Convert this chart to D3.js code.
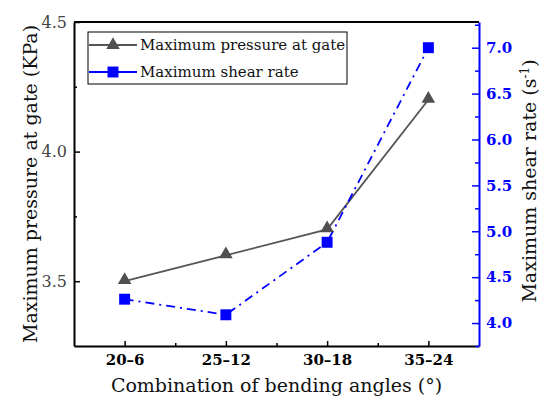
<!DOCTYPE html>
<html lang="en">
<head>
    <meta charset="UTF-8">
    <title>Bending angles</title>
    <script src="https://d3js.org/d3.v7.min.js"></script>
    <style>
        body { margin: 0; background: #fff; }
        text { font-family: "DejaVu Serif", "Liberation Serif", serif; }
    </style>
</head>
<body>
<div id="chart"></div>
<script>
    const categories = ["20–6", "25–12", "30–18", "35–24"];
    const pressure = [3.5, 3.6, 3.7, 4.2];
    const shearRate = [4.26, 4.09, 4.88, 7.0];
    const leftTicks = [3.5, 4.0, 4.5];
    const leftMinor = [3.75, 4.25];
    const rightTicks = [4.0, 4.5, 5.0, 5.5, 6.0, 6.5, 7.0];
    const rightMinor = [3.75, 4.25, 4.75, 5.25, 5.75, 6.25, 6.75, 7.25];

    const width = 542, height = 400;
    const margin = {top: 22, right: 63, bottom: 54, left: 74};
    const blue = "#0000ff";

    const svg = d3.select("#chart").append("svg")
        .attr("width", width)
        .attr("height", height);

    const x = d3.scalePoint()
        .domain(categories)
        .range([margin.left, width - margin.right])
        .padding(0.5);

    const yL = d3.scaleLinear()
        .domain([3.25, 4.5])
        .range([height - margin.bottom, margin.top]);

    const yR = d3.scaleLinear()
        .domain([3.75, 7.28])
        .range([height - margin.bottom, margin.top]);

    const step = x.step();
    const xMinor = categories.slice(0, -1).map(c => x(c) + step / 2);

    // top frame line
    svg.append("line")
        .attr("x1", margin.left).attr("x2", width - margin.right)
        .attr("y1", margin.top).attr("y2", margin.top)
        .attr("stroke", "#000").attr("stroke-width", 2);

    // bottom axis
    const gx = svg.append("g")
        .attr("transform", `translate(0,${height - margin.bottom})`)
        .call(d3.axisBottom(x).tickSizeInner(-5).tickSizeOuter(0).tickPadding(8));
    gx.select(".domain").attr("stroke-width", 2);
    gx.selectAll(".tick line").attr("stroke-width", 1.5);
    gx.selectAll("text")
        .attr("font-size", 15).attr("font-weight", "bold").attr("fill", "#000")
        .attr("font-family", "'DejaVu Serif', serif");
    svg.append("g")
        .attr("transform", `translate(0,${height - margin.bottom})`)
        .call(d3.axisBottom(d3.scaleLinear().domain([0, width]).range([0, width]))
            .tickValues(xMinor).tickSize(-3).tickFormat(""))
        .call(g => g.select(".domain").remove())
        .selectAll("line").attr("stroke-width", 1.5);

    // left axis
    const gl = svg.append("g")
        .attr("transform", `translate(${margin.left},0)`)
        .call(d3.axisLeft(yL).tickValues(leftTicks).tickFormat(d3.format(".1f"))
            .tickSizeInner(-6).tickSizeOuter(0).tickPadding(7));
    gl.select(".domain").attr("stroke-width", 2);
    gl.selectAll(".tick line").attr("stroke-width", 1.5);
    gl.selectAll("text")
        .attr("font-size", 16).attr("fill", "#444")
        .attr("font-family", "'DejaVu Serif', serif");
    svg.append("g")
        .attr("transform", `translate(${margin.left},0)`)
        .call(d3.axisLeft(yL).tickValues(leftMinor).tickSize(-3).tickFormat(""))
        .call(g => g.select(".domain").remove())
        .selectAll("line").attr("stroke-width", 1.5);

    // right axis
    const gr = svg.append("g")
        .attr("transform", `translate(${width - margin.right},0)`)
        .call(d3.axisRight(yR).tickValues(rightTicks).tickFormat(d3.format(".1f"))
            .tickSizeInner(-7).tickSizeOuter(0).tickPadding(7));
    gr.select(".domain").attr("stroke", blue).attr("stroke-width", 2);
    gr.selectAll(".tick line").attr("stroke", blue).attr("stroke-width", 1.5);
    gr.selectAll("text")
        .attr("font-size", 15).attr("font-weight", "bold").attr("fill", blue)
        .attr("font-family", "'DejaVu Serif', serif");
    svg.append("g")
        .attr("transform", `translate(${width - margin.right},0)`)
        .call(d3.axisRight(yR).tickValues(rightMinor).tickSize(-4).tickFormat(""))
        .call(g => g.select(".domain").remove())
        .selectAll("line").attr("stroke", blue).attr("stroke-width", 1.5);

    // lines
    const linePressure = d3.line()
        .x((d, i) => x(categories[i]))
        .y(d => yL(d));
    const lineShear = d3.line()
        .x((d, i) => x(categories[i]))
        .y(d => yR(d));

    svg.append("path")
        .datum(pressure)
        .attr("d", linePressure)
        .attr("fill", "none")
        .attr("stroke", "#555")
        .attr("stroke-width", 1.8);

    svg.append("path")
        .datum(shearRate)
        .attr("d", lineShear)
        .attr("fill", "none")
        .attr("stroke", blue)
        .attr("stroke-width", 1.8)
        .attr("stroke-dasharray", "9,5,2,5");

    const tri = d3.symbol().type(d3.symbolTriangle).size(80);
    const sq = d3.symbol().type(d3.symbolSquare).size(120);

    svg.selectAll(".tri")
        .data(pressure)
        .enter()
        .append("path")
        .attr("class", "tri")
        .attr("d", tri)
        .attr("transform", (d, i) => `translate(${x(categories[i])},${yL(d) - 1})`)
        .attr("fill", "#505050");

    svg.selectAll(".sq")
        .data(shearRate)
        .enter()
        .append("path")
        .attr("class", "sq")
        .attr("d", sq)
        .attr("transform", (d, i) => `translate(${x(categories[i])},${yR(d)})`)
        .attr("fill", blue);

    // axis titles
    svg.append("text")
        .attr("x", (margin.left + width - margin.right) / 2)
        .attr("y", 392)
        .attr("text-anchor", "middle")
        .attr("font-size", 19)
        .attr("fill", "#111")
        .text("Combination of bending angles (°)");

    svg.append("text")
        .attr("transform", "translate(37,184) rotate(-90)")
        .attr("text-anchor", "middle")
        .attr("font-size", 19)
        .attr("fill", "#111")
        .text("Maximum pressure at gate (KPa)");

    const rt = svg.append("text")
        .attr("transform", "translate(536,181) rotate(-90)")
        .attr("text-anchor", "middle")
        .attr("font-size", 19)
        .attr("fill", "#111");
    rt.append("tspan").text("Maximum shear rate (s");
    rt.append("tspan").attr("font-size", 12).attr("dy", -7).text("-1");
    rt.append("tspan").attr("dy", 7).text(")");

    // legend
    const legend = svg.append("g");
    legend.append("rect")
        .attr("x", 88).attr("y", 32)
        .attr("width", 259).attr("height", 52)
        .attr("fill", "#fff")
        .attr("stroke", "#000").attr("stroke-width", 1);

    const items = [
        {label: "Maximum pressure at gate", color: "#555", sym: tri, fill: "#505050", dash: null},
        {label: "Maximum shear rate", color: blue, sym: sq, fill: blue, dash: "9,5,2,5"}
    ];
    items.forEach((it, i) => {
        const cy = 45 + i * 27;
        legend.append("line")
            .attr("x1", 89).attr("x2", 137)
            .attr("y1", cy).attr("y2", cy)
            .attr("stroke", it.color).attr("stroke-width", 1.8);
        legend.append("path")
            .attr("d", it.sym)
            .attr("transform", `translate(113,${cy})`)
            .attr("fill", it.fill);
        legend.append("text")
            .attr("x", 140).attr("y", cy + 5)
            .attr("font-size", 15)
            .attr("fill", "#111")
            .text(it.label);
    });
</script>
</body>
</html>
